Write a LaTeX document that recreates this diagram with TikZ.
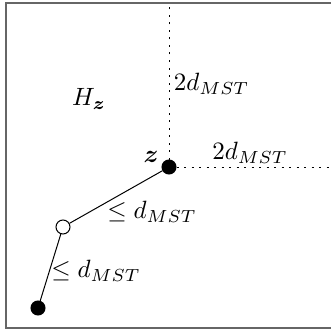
\documentclass[tikz,border=0pt]{standalone}
\usepackage{amsmath}
\usepackage{bm}

\tikzset{
    blackdot/.style={circle, fill=black, draw=black, inner sep=0pt, minimum size=5.6pt},
    whitedot/.style={circle, fill=white, draw=black, inner sep=0pt, minimum size=5.6pt},
    axisline/.style={dash pattern=on 0.8pt off 2.2pt},
}

\begin{document}
\begin{tikzpicture}[x=0.4pt, y=-0.4pt, line width=0.4pt]
    \useasboundingbox (0,0) rectangle (331,333);

    % Draw the frame (its right side is cut off)
    \draw[gray!80!black, line width=0.6pt] (331,3) -- (6,3) -- (6,328) -- (331,328);

    % Define the points
    \node[blackdot] (Z) at (169,167) {};
    \node[whitedot] (W) at (63,227) {};
    \node[blackdot] (P) at (38,308) {};
    \coordinate (Top) at (169,3);
    \coordinate (Right) at (331,167);

    % Draw the dotted axes
    \draw[axisline] (Z) -- (Top);
    \draw[axisline] (Z) -- (Right);

    % Draw the path
    \draw (P) -- (W) -- (Z);

    % Place the labels
    \node[anchor=west] (LV) at (165,84) {$2d_{MST}$};
    \node (LH) at (250,153) {$2d_{MST}$};
    \node (LZ) at (151,157) {$\bm{z}$};
    \node (LHZ) at (89,99) {$H_{\bm{z}}$};
    \node (LA) at (152,212) {$\leq d_{MST}$};
    \node (LB) at (96,271) {$\leq d_{MST}$};
\end{tikzpicture}
\end{document}
